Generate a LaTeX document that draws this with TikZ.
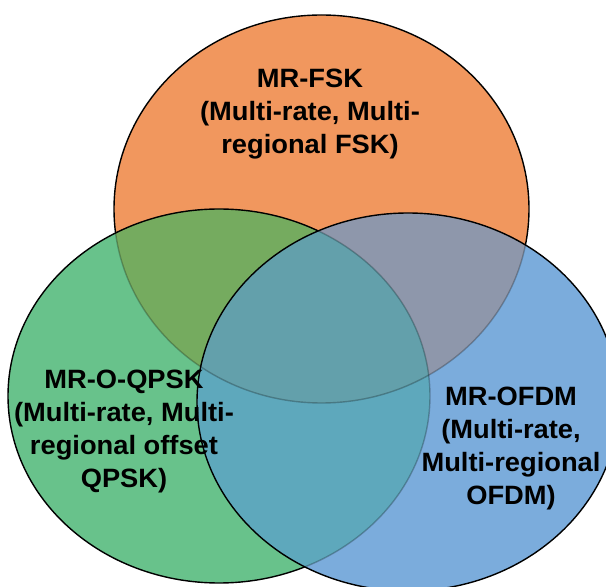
\documentclass[tikz,border=0pt]{standalone}
\usepackage{fontspec}
\setmainfont{Liberation Sans}
\definecolor{cO}{RGB}{241,151,94}
\definecolor{cG}{RGB}{104,194,139}
\definecolor{cB}{RGB}{123,172,220}
\definecolor{cGO}{RGB}{117,171,95}
\definecolor{cBO}{RGB}{142,151,171}
\definecolor{cBG}{RGB}{94,168,188}
\definecolor{cC}{RGB}{99,160,171}
\begin{document}
\begin{tikzpicture}[x=1pt,y=1pt,
  outl/.style={draw=black,line width=1.4pt},
  dim/.style={draw=black,draw opacity=0.25,line width=1.4pt},
  lbl/.style={font=\fontsize{26.5}{33}\selectfont\bfseries,align=center,inner sep=0pt,xscale=1.03,transform shape}]
\useasboundingbox (0,0) rectangle (606,587);
\fill[white] (0,0) rectangle (606,587);
\clip (0,0) rectangle (606,587);
% orange
\fill[cO] (321.5,378) ellipse [x radius=207.5, y radius=194];
\draw[outl] (321.5,378) ellipse [x radius=207.5, y radius=194];
% green
\fill[cG] (219,191) ellipse [x radius=211, y radius=187];
\begin{scope}
  \clip (219,191) ellipse [x radius=211, y radius=187];
  \fill[cGO] (321.5,378) ellipse [x radius=207.5, y radius=194];
  \draw[dim] (321.5,378) ellipse [x radius=207.5, y radius=194];
\end{scope}
\draw[outl] (219,191) ellipse [x radius=211, y radius=187];
% blue
\fill[cB] (408,185) ellipse [x radius=211, y radius=189];
\begin{scope}
  \clip (408,185) ellipse [x radius=211, y radius=189];
  \fill[cBO] (321.5,378) ellipse [x radius=207.5, y radius=194];
  \fill[cBG] (219,191) ellipse [x radius=211, y radius=187];
  \begin{scope}
    \clip (321.5,378) ellipse [x radius=207.5, y radius=194];
    \fill[cC] (219,191) ellipse [x radius=211, y radius=187];
  \end{scope}
  \draw[dim] (321.5,378) ellipse [x radius=207.5, y radius=194];
  \draw[dim] (219,191) ellipse [x radius=211, y radius=187];
\end{scope}
\draw[outl] (408,185) ellipse [x radius=211, y radius=189];
% labels
\node[lbl] (fsk) at (310,473.3) {MR-FSK\\(Multi-rate, Multi-\\regional FSK)};
\node[lbl] (oqpsk) at (124,156) {MR-O-QPSK\\(Multi-rate, Multi-\\regional offset\\QPSK)};
\node[lbl] (ofdm) at (511,139) {MR-OFDM\\(Multi-rate,\\Multi-regional\\OFDM)};
\end{tikzpicture}
\end{document}
